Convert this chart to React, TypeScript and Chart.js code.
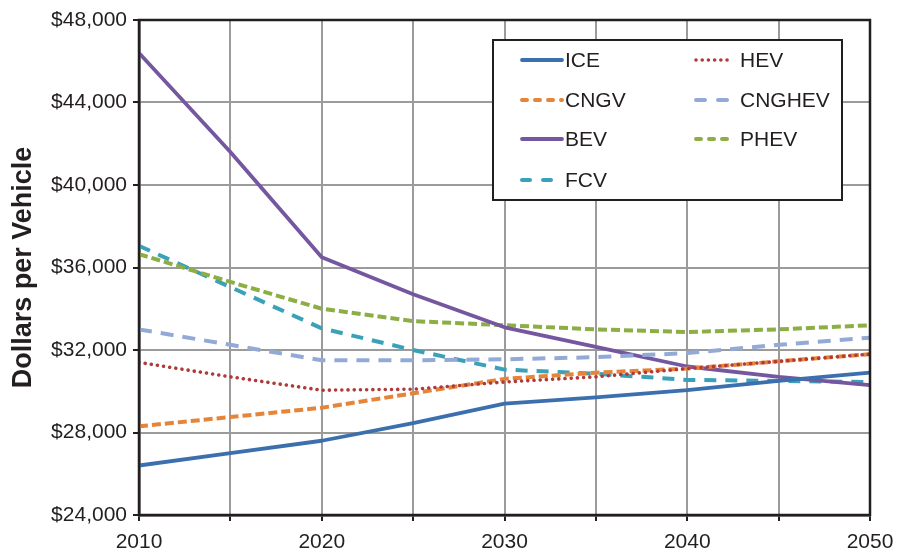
import { useEffect, useRef } from "react";
import { Chart, registerables } from "chart.js";

Chart.register(...registerables);

const years = [2010, 2015, 2020, 2025, 2030, 2035, 2040, 2045, 2050];
const ice = [26400, 27000, 27600, 28450, 29400, 29700, 30050, 30500, 30900];
const hev = [31400, 30700, 30050, 30100, 30450, 30700, 31100, 31450, 31800];
const cngv = [28300, 28750, 29200, 29900, 30600, 30900, 31100, 31450, 31800];
const cnghev = [33000, 32250, 31500, 31500, 31550, 31650, 31850, 32250, 32600];
const bev = [46400, 41600, 36500, 34700, 33100, 32150, 31200, 30700, 30300];
const phev = [36650, 35300, 34000, 33400, 33200, 33000, 32870, 33000, 33200];
const fcv = [37050, 35050, 33050, 32000, 31050, 30850, 30550, 30500, 30450];

const seriesNames = ["ICE", "HEV", "CNGV", "CNGHEV", "BEV", "PHEV", "FCV"];
const yTicks = [24000, 28000, 32000, 36000, 40000, 44000, 48000];
const xLabelYears = [2010, 2020, 2030, 2040, 2050];

const FONT = "'Liberation Sans', Arial, Helvetica, sans-serif";
const TEXT = "#231f20";

type Style = { color: string; dash: number[]; cap: CanvasLineCap; width: number };
const styles: Style[] = [
  { color: "#3b6fae", dash: [], cap: "round", width: 3.8 },
  { color: "#b0393a", dash: [0.01, 6.2], cap: "round", width: 3.6 },
  { color: "#e5853a", dash: [9, 4], cap: "butt", width: 4 },
  { color: "#94aad6", dash: [13, 9], cap: "butt", width: 4 },
  { color: "#7557a0", dash: [], cap: "round", width: 3.8 },
  { color: "#8cae45", dash: [9, 4], cap: "butt", width: 4 },
  { color: "#3aa1b9", dash: [12, 9], cap: "butt", width: 4 },
];

const frameAndLegend = {
  id: "frameAndLegend",
  afterDatasetsDraw(chart: any) {
    const { ctx, chartArea } = chart;
    ctx.save();
    ctx.strokeStyle = TEXT;
    ctx.lineWidth = 2.5;
    ctx.setLineDash([]);
    ctx.strokeRect(chartArea.left, chartArea.top, chartArea.right - chartArea.left, chartArea.bottom - chartArea.top);

    // legend box
    const bx = 493, by = 40, bw = 349, bh = 160;
    ctx.fillStyle = "#ffffff";
    ctx.fillRect(bx, by, bw, bh);
    ctx.lineWidth = 2;
    ctx.strokeStyle = TEXT;
    ctx.strokeRect(bx, by, bw, bh);

    const rowY = [60, 100, 139, 180];
    const cols = [
      { lx0: 522, lx1: 562, tx: 565 },
      { lx0: 696, lx1: 732, tx: 740 },
    ];
    ctx.font = `21px ${FONT}`;
    ctx.textBaseline = "middle";
    ctx.textAlign = "left";
    chart.data.datasets.forEach((ds: any, i: number) => {
      const r = Math.floor(i / 2);
      const c = cols[i % 2];
      const y = rowY[r];
      const st = styles[i];
      ctx.beginPath();
      ctx.strokeStyle = st.color;
      ctx.lineWidth = st.width;
      ctx.lineCap = st.cap === "butt" ? "round" : st.cap;
      if (st.dash.length && st.cap === "butt") {
        ctx.setLineDash([st.dash[0] - st.width, st.dash[1] + st.width]);
      } else {
        ctx.setLineDash(st.dash);
      }
      ctx.moveTo(c.lx0, y);
      ctx.lineTo(c.lx1, y);
      ctx.stroke();
      ctx.setLineDash([]);
      ctx.fillStyle = TEXT;
      ctx.fillText(ds.label, c.tx, y + 1);
    });
    ctx.restore();
  },
};

export default function App() {
  const ref = useRef<HTMLCanvasElement | null>(null);
  useEffect(() => {
    document.body.style.margin = "0";
    const seriesData = [ice, hev, cngv, cnghev, bev, phev, fcv];
    const datasets = seriesData.map((vals, i) => ({
      label: seriesNames[i],
      data: years.map((yr, j) => ({ x: yr, y: vals[j] })),
      borderColor: styles[i].color,
      backgroundColor: styles[i].color,
      borderWidth: styles[i].width,
      borderDash: styles[i].dash,
      borderCapStyle: styles[i].cap,
      borderJoinStyle: "round" as const,
      pointRadius: 0,
      tension: 0,
      fill: false,
    }));
    const chart = new Chart(ref.current as HTMLCanvasElement, {
      type: "line",
      data: { datasets },
      options: {
        animation: false,
        responsive: false,
        devicePixelRatio: 1,
        layout: { padding: { left: 0, right: 29, top: 20, bottom: 0 } },
        plugins: { legend: { display: false }, tooltip: { enabled: false } },
        scales: {
          x: {
            type: "linear",
            min: 2010,
            max: 2050,
            afterFit: (s: any) => {
              s.height = 37;
              s.paddingRight = 0;
              s.paddingLeft = 0;
            },
            ticks: {
              stepSize: 5,
              autoSkip: false,
              maxRotation: 0,
              padding: 9,
              color: TEXT,
              font: { family: FONT, size: 21 },
              callback: (v: any) => (xLabelYears.includes(Number(v)) ? String(v) : ""),
            },
            grid: { color: "#9b9b9b", lineWidth: 2, tickColor: TEXT, tickLength: 6, tickWidth: 2 },
            border: { color: TEXT, width: 2.5 },
          },
          y: {
            min: 24000,
            max: 48000,
            afterFit: (s: any) => {
              s.width = 139;
              s.paddingTop = 0;
              s.paddingBottom = 0;
            },
            afterBuildTicks: (s: any) => {
              s.ticks = yTicks.map((v) => ({ value: v }));
            },
            ticks: {
              padding: 6,
              color: TEXT,
              font: { family: FONT, size: 21 },
              callback: (v: any) => "$" + Number(v).toLocaleString("en-US"),
            },
            grid: { color: "#9b9b9b", lineWidth: 2, tickColor: TEXT, tickLength: 6, tickWidth: 2 },
            border: { color: TEXT, width: 2.5 },
            title: {
              display: true,
              text: "Dollars per Vehicle",
              color: TEXT,
              font: { family: FONT, size: 27, weight: "bold" },
              padding: { top: 7, bottom: 0 },
            },
          },
        },
      },
      plugins: [frameAndLegend],
    });
    return () => chart.destroy();
  }, []);
  return (
    <div style={{ width: 899, height: 552, position: "relative" }}>
      <canvas ref={ref} width={899} height={552} style={{ display: "block" }} />
    </div>
  );
}
